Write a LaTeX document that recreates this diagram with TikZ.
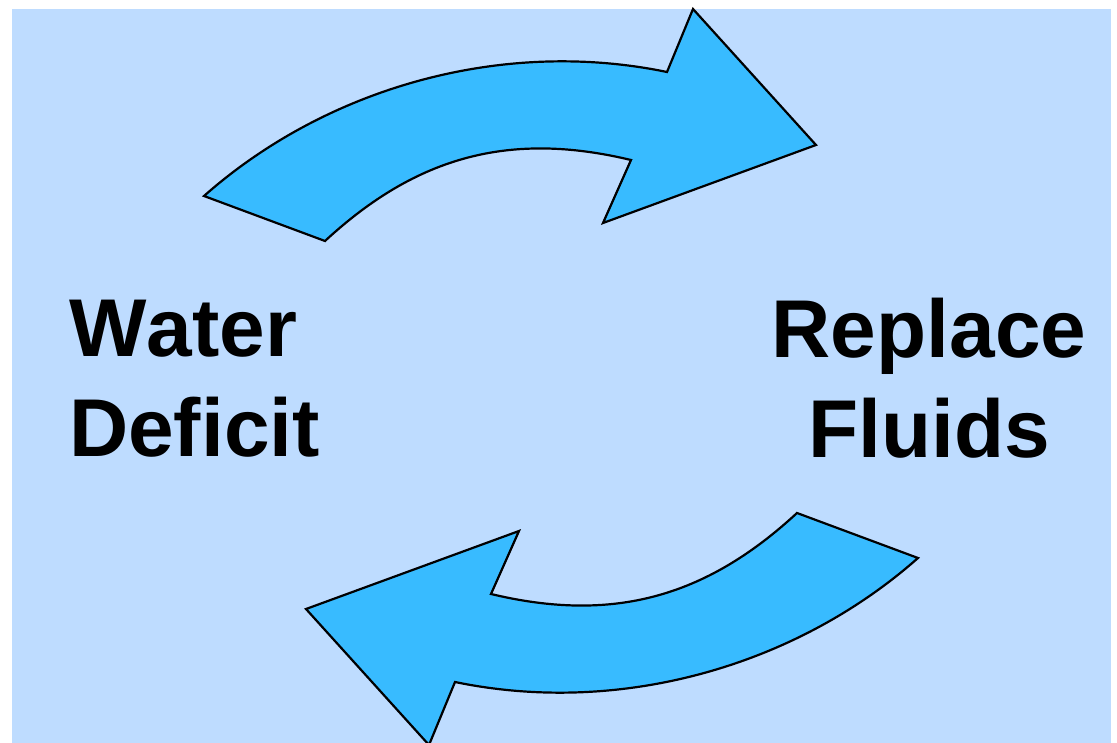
\documentclass[tikz,border=0pt]{standalone}
\usepackage{fontspec}
\setmainfont[Kerning=Off]{Liberation Sans}
\definecolor{panel}{RGB}{190,220,255}
\definecolor{arrowblue}{RGB}{56,187,255}
\tikzset{
  cycarrow/.style={fill=arrowblue, draw=black, line width=2.2pt},
  cyctext/.style={font=\fontsize{82}{100}\selectfont\bfseries, inner sep=0pt},
}
\begin{document}
\begin{tikzpicture}[x=1pt, y=-1pt]
	\useasboundingbox (0,0) rectangle (1117,743);
	\fill[panel] (12,9) rectangle (1111,743);
	% upper arrow, then the same turned half round
	\foreach \ang in {0,180}{
		\begin{scope}[rotate around={\ang:(561,377)}]
			\path	(204,196) coordinate (to)
				(667,72) coordinate (no)
				(693,9) coordinate (hb1)
				(816,145) coordinate (tip)
				(603,223) coordinate (hb2)
				(631,160) coordinate (ni)
				(325,241) coordinate (ti);
			\draw[cycarrow] (to) .. controls (326,88) and (501.6,37.7) .. (no)
				-- (hb1) -- (tip) -- (hb2) -- (ni)
				.. controls (510,131) and (416.8,156.1) .. (ti) -- cycle;
		\end{scope}
	}
	\node[cyctext, align=left, anchor=west] (water) at (69,378.5) {Water\\Deficit};
	\node[cyctext, align=center] (fluids) at (929,378.5) {Replace\\Fluids};
\end{tikzpicture}
\end{document}
